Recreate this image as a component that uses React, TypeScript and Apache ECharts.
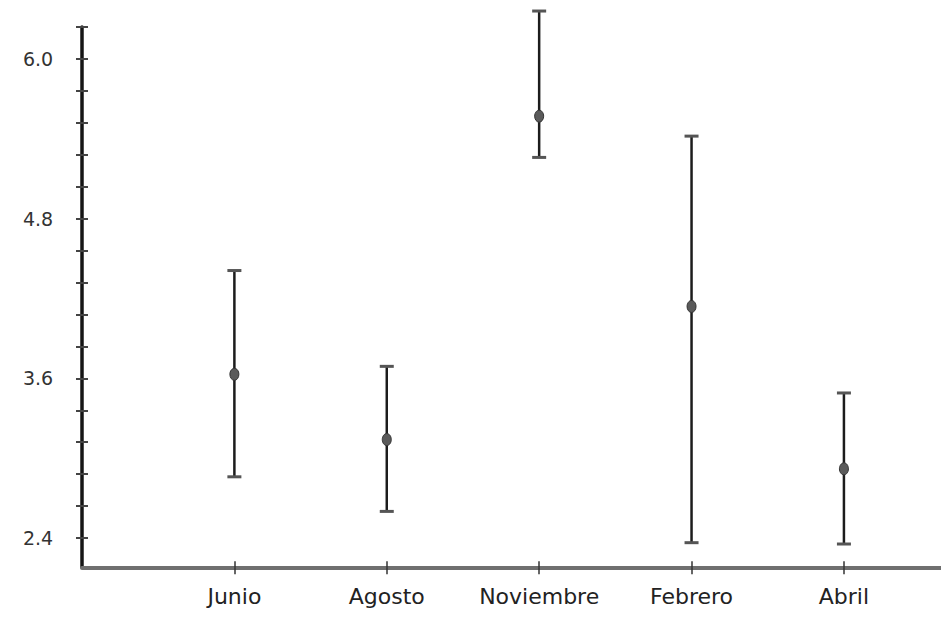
import React, { useEffect, useRef } from "react";
import * as echarts from "echarts";

const categories = ["Junio", "Agosto", "Noviembre", "Febrero", "Abril"];
const xPositions = [1, 2, 3, 4, 5];
const centers = [3.63, 3.14, 5.57, 4.14, 2.92];
const lows = [2.86, 2.6, 5.26, 2.365, 2.355];
const highs = [4.41, 3.69, 6.36, 5.42, 3.49];
const yTicks = [2.4, 2.64, 2.88, 3.12, 3.36, 3.6, 3.84, 4.08, 4.32, 4.56, 4.8, 5.04, 5.28, 5.52, 5.76, 6.0, 6.24];
const yLabels = [2.4, 3.6, 4.8, 6.0];

const FONT = "DejaVu Sans";

export default function App() {
  const ref = useRef<HTMLDivElement>(null);
  useEffect(() => {
    if (!ref.current) return;
    const chart = echarts.init(ref.current, undefined, { renderer: "svg" });
    const data = categories.map((_, i) => [xPositions[i], centers[i], lows[i], highs[i]]);
    chart.setOption({
      animation: false,
      backgroundColor: "#ffffff",
      grid: { left: 82, right: 0, top: 27, bottom: 49.7, containLabel: false },
      xAxis: [
        {
          type: "value",
          min: 0,
          max: 5.637,
          position: "bottom",
          splitLine: { show: false },
          axisLine: { show: true, lineStyle: { color: "#6f6f6f", width: 4 } },
          axisTick: { show: true, customValues: xPositions, length: 7, lineStyle: { color: "#333", width: 1.5 } },
          axisLabel: {
            show: true,
            customValues: xPositions,
            margin: 18,
            color: "#222",
            fontFamily: FONT,
            fontSize: 22,
            formatter: (v: number) => categories[Math.round(v) - 1] ?? "",
          },
        },
        {
          type: "value",
          min: 0,
          max: 5.637,
          position: "bottom",
          splitLine: { show: false },
          axisLine: { show: false },
          axisTick: { show: true, inside: true, customValues: xPositions, length: 6, lineStyle: { color: "#333", width: 1.5 } },
          axisLabel: { show: false },
        },
      ],
      yAxis: [
        {
          type: "value",
          min: 2.18,
          max: 6.24,
          position: "left",
          splitLine: { show: false },
          axisLine: { show: true, lineStyle: { color: "#151515", width: 3.5 } },
          axisTick: { show: true, customValues: yTicks, length: 6, lineStyle: { color: "#444", width: 2 } },
          axisLabel: {
            show: true,
            customValues: yLabels,
            align: "center",
            margin: 44,
            color: "#333",
            fontFamily: FONT,
            fontSize: 19,
            formatter: (v: number) => v.toFixed(1),
          },
        },
        {
          type: "value",
          min: 2.18,
          max: 6.24,
          position: "left",
          splitLine: { show: false },
          axisLine: { show: false },
          axisTick: { show: true, inside: true, customValues: yTicks, length: 6, lineStyle: { color: "#444", width: 2 } },
          axisLabel: { show: false },
        },
      ],
      series: [
        {
          type: "custom",
          xAxisIndex: 0,
          yAxisIndex: 0,
          clip: false,
          data,
          renderItem: (_params: any, api: any) => {
            const x = api.value(0);
            const pc = api.coord([x, api.value(1)]);
            const pl = api.coord([x, api.value(2)]);
            const ph = api.coord([x, api.value(3)]);
            return {
              type: "group",
              children: [
                {
                  type: "line",
                  shape: { x1: pl[0], y1: pl[1], x2: ph[0], y2: ph[1] },
                  style: { stroke: "#1c1c1c", lineWidth: 2.5 },
                },
                {
                  type: "line",
                  shape: { x1: ph[0] - 7, y1: ph[1], x2: ph[0] + 7, y2: ph[1] },
                  style: { stroke: "#555", lineWidth: 3 },
                },
                {
                  type: "line",
                  shape: { x1: pl[0] - 7, y1: pl[1], x2: pl[0] + 7, y2: pl[1] },
                  style: { stroke: "#555", lineWidth: 3 },
                },
                {
                  type: "ellipse",
                  shape: { cx: pc[0], cy: pc[1], rx: 4.5, ry: 6 },
                  style: { fill: "#5a5a5a", stroke: "#333", lineWidth: 1 },
                },
              ],
            };
          },
        },
      ],
    });
    return () => chart.dispose();
  }, []);
  return <div ref={ref} style={{ position: "absolute", left: 0, top: 0, width: 941, height: 617 }} />;
}
